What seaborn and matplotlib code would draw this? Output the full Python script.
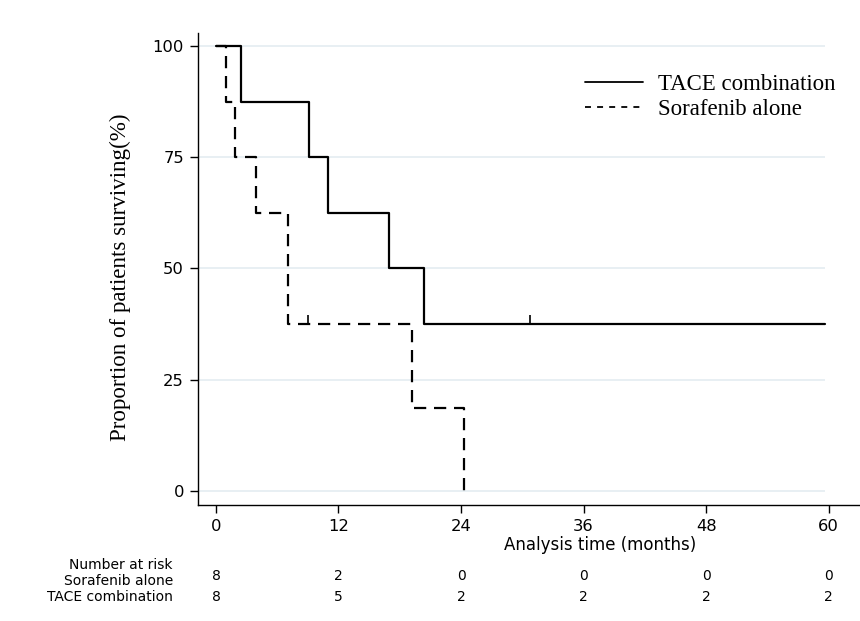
import pandas as pd
import matplotlib.pyplot as plt
import seaborn as sns
from matplotlib.lines import Line2D

# Kaplan-Meier steps (months, % surviving)
tace_time = [0, 2.45, 9.1, 11.0, 16.9, 20.4, 59.6]
tace_surv = [100, 87.5, 75, 62.5, 50, 37.5, 37.5]
sora_time = [0, 0.95, 1.9, 3.9, 7.05, 19.2, 24.3]
sora_surv = [100, 87.5, 75, 62.5, 37.5, 18.75, 0]

# censored observations
censor_time = [9.0, 30.8]
censor_surv = [37.5, 37.5]

groups = ["TACE combination", "Sorafenib alone"]

# number at risk table
risk_times = [0, 12, 24, 36, 48, 60]
risk_sora = [8, 2, 0, 0, 0, 0]
risk_tace = [8, 5, 2, 2, 2, 2]

df = pd.concat([
    pd.DataFrame({"time": tace_time, "surv": tace_surv, "group": groups[0]}),
    pd.DataFrame({"time": sora_time, "surv": sora_surv, "group": groups[1]}),
], ignore_index=True)

sns.set_style("white")
sans = ["DejaVu Sans"]
serif = ["Liberation Serif", "DejaVu Serif"]
plt.rcParams["font.family"] = sans
plt.rcParams["text.color"] = "black"
plt.rcParams["axes.labelcolor"] = "black"
plt.rcParams["xtick.color"] = "black"
plt.rcParams["ytick.color"] = "black"

fig = plt.figure(figsize=(8.6, 6.21), dpi=100)
ax = fig.add_axes([0.2302, 0.1868, 0.7698, 0.7601])

# horizontal grid over the plot region
ax.hlines([0, 25, 50, 75, 100], -1.76, 59.6, color="#e6eef2",
          linewidth=1.3, zorder=0)

dash_map = {groups[0]: "", groups[1]: (5.5, 3.5)}
sns.lineplot(data=df, x="time", y="surv", style="group", dashes=dash_map,
             drawstyle="steps-post", estimator=None, color="black",
             linewidth=1.6, legend=False, ax=ax)

# censor ticks
ax.vlines(censor_time, censor_surv, [s + 2 for s in censor_surv],
          color="black", linewidth=1.2)

ax.set_xlim(-1.76, 63.07)
ax.set_ylim(-3.15, 102.9)
ax.set_xticks(risk_times)
ax.set_yticks([0, 25, 50, 75, 100])
ax.grid(False)
for side in ["top", "right"]:
    ax.spines[side].set_visible(False)
for side in ["left", "bottom"]:
    ax.spines[side].set_color("black")
    ax.spines[side].set_linewidth(1.0)
ax.tick_params(axis="both", direction="out", length=6, width=1.0,
               color="black", labelcolor="black", labelsize=11.8, pad=4,
               bottom=True, left=True)

ax.set_xlabel("Analysis time (months)", fontsize=12, color="black")
ax.xaxis.set_label_coords(0.607, -0.066)
ax.set_ylabel("Proportion of patients surviving(%)", fontsize=16.6,
              family=serif, color="black")
ax.yaxis.set_label_coords(-0.101, 0.483)

handles = [Line2D([], [], color="black", linewidth=1.3),
           Line2D([], [], color="black", linewidth=1.3, dashes=(3.3, 3.4))]
leg = ax.legend(handles, groups, loc="upper left", bbox_to_anchor=(0.656, 0.914),
                bbox_transform=fig.transFigure, frameon=False, handlelength=2.53,
                handletextpad=0.65, labelspacing=0.18,
                prop={"family": serif, "size": 16.5})
for txt in leg.get_texts():
    txt.set_color("black")

# number at risk table
fig.text(0.201, 1 - 565 / 621, "Number at risk", ha="right", va="center",
         fontsize=10, color="black")
fig.text(0.201, 1 - 581 / 621, "Sorafenib alone", ha="right", va="center",
         fontsize=10, color="black")
fig.text(0.201, 1 - 597 / 621, "TACE combination", ha="right", va="center",
         fontsize=10, color="black")
trans = ax.get_xaxis_transform()
for t, s_n, t_n in zip(risk_times, risk_sora, risk_tace):
    ax.text(t, (1 - 576 / 621 - 0.1868) / 0.7601, str(s_n), transform=trans,
            ha="center", va="center", fontsize=10, color="black", clip_on=False)
    ax.text(t, (1 - 597 / 621 - 0.1868) / 0.7601, str(t_n), transform=trans,
            ha="center", va="center", fontsize=10, color="black", clip_on=False)

fig.savefig("out.png", dpi=100)
